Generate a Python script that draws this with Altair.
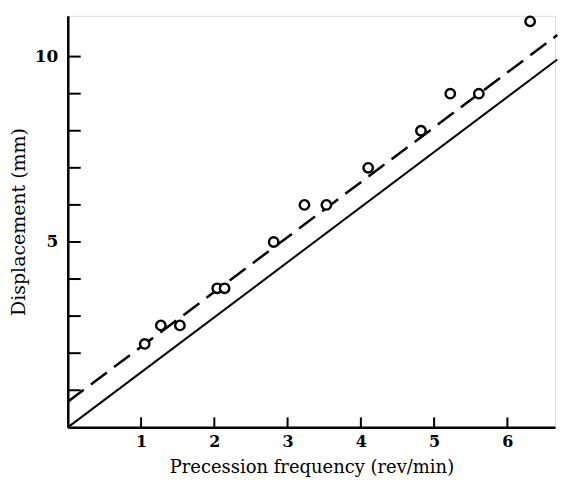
import altair as alt
import pandas as pd

# measured points
freq = [1.05, 1.27, 1.53, 2.04, 2.14, 2.81, 3.23, 3.53, 4.10, 4.82, 5.22, 5.61, 6.31]
disp = [2.25, 2.75, 2.75, 3.75, 3.75, 5.0, 6.0, 6.0, 7.0, 8.0, 9.0, 9.0, 10.95]

# theoretical (solid) and fitted (dashed) lines
solid_x = [0.0, 6.68]
solid_y = [0.0, 9.92]
dash_x = [0.0, 6.68]
dash_y = [0.69, 10.58]

x_ticks = [1, 2, 3, 4, 5, 6]
y_ticks = [1, 2, 3, 4, 5, 6, 7, 8, 9, 10]
y_labels = [5, 10]

FONT = "DejaVu Serif"
xs = alt.Scale(domain=[0, 6.65], nice=False, zero=True)
ys = alt.Scale(domain=[0, 11.1], nice=False, zero=True)

pts = pd.DataFrame({"f": freq, "d": disp})
sol = pd.DataFrame({"f": solid_x, "d": solid_y})
dsh = pd.DataFrame({"f": dash_x, "d": dash_y})
xt = pd.DataFrame({"v": x_ticks})
yt = pd.DataFrame({"v": y_ticks})

base_x = alt.X("f:Q", scale=xs, title="Precession frequency (rev/min)",
               axis=alt.Axis(values=x_ticks, format="d", tickSize=0, labelPadding=6, grid=False,
                             domainColor="black", domainWidth=2.5,
                             labelFont=FONT, labelFontSize=16, labelFontWeight="bold",
                             labelColor="black",
                             titleFont=FONT, titleFontSize=18, titleFontWeight="normal",
                             titleColor="black", titlePadding=9))
base_y = alt.Y("d:Q", scale=ys, title="Displacement (mm)",
               axis=alt.Axis(values=y_labels, format="d", tickSize=0, labelPadding=10, grid=False,
                             domainColor="black", domainWidth=2.5,
                             labelFont=FONT, labelFontSize=17, labelFontWeight="bold",
                             labelColor="black",
                             titleFont=FONT, titleFontSize=19, titleFontWeight="normal",
                             titleColor="black", titlePadding=6))

solid = alt.Chart(sol).mark_line(color="black", strokeWidth=2, clip=False).encode(x=base_x, y=base_y)
dashed = alt.Chart(dsh).mark_line(color="black", strokeWidth=2.5, strokeDash=[20, 9], clip=False).encode(
    x=alt.X("f:Q", scale=xs), y=alt.Y("d:Q", scale=ys))
points = alt.Chart(pts).mark_point(shape="circle", size=90, filled=True, fill="white",
                                   stroke="black", strokeWidth=2.4, opacity=1).encode(
    x=alt.X("f:Q", scale=xs), y=alt.Y("d:Q", scale=ys))

xtick = alt.Chart(xt).mark_rule(color="black", strokeWidth=2).encode(
    x=alt.X("v:Q", scale=xs), y=alt.value(413), y2=alt.value(403))
ytick = alt.Chart(yt).mark_rule(color="black", strokeWidth=2).encode(
    y=alt.Y("v:Q", scale=ys), x=alt.value(0), x2=alt.value(13))

chart = alt.layer(solid, dashed, xtick, ytick, points).properties(
    width=489, height=413
).configure_view(stroke=None).configure(padding={"left": 1, "top": 3, "right": 0, "bottom": 0})

chart.save("out.html", embed_options={"renderer": "svg", "actions": False})
